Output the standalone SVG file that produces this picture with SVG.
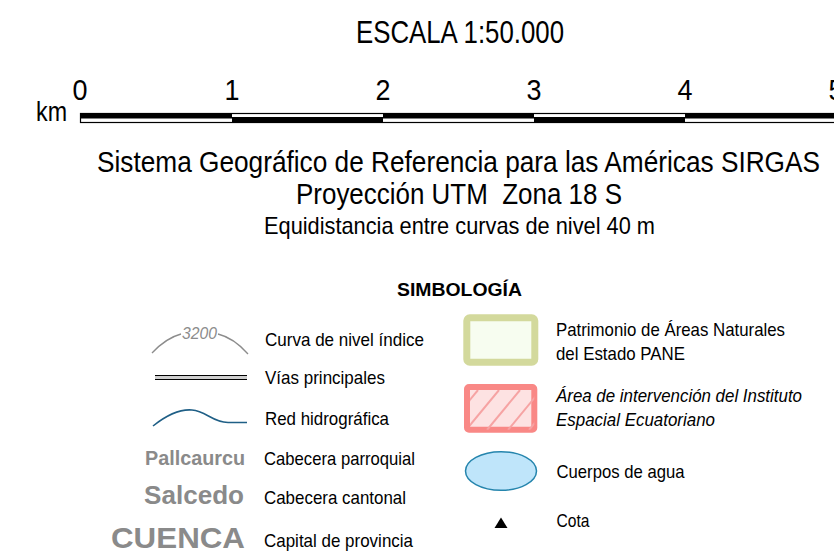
<svg xmlns="http://www.w3.org/2000/svg" width="834" height="559" viewBox="0 0 834 559">
<style>
text{font-family:"Liberation Sans",Arial,sans-serif;fill:#000}
.t{font-size:30px;text-anchor:middle}
.d{font-size:30px;text-anchor:middle}
.lab{font-size:19px}
.it{font-style:italic}
.pl{font-weight:bold;fill:#8a8a8a;text-anchor:end}
</style>
<defs>
<clipPath id="hc"><rect x="470" y="390" width="64.3" height="39.7"/></clipPath>
</defs>
<rect width="834" height="559" fill="#fff"/>
<g id="scale">
<text x="460" y="43" font-size="32" text-anchor="middle" textLength="208" lengthAdjust="spacingAndGlyphs">ESCALA 1:50.000</text>
<text x="36" y="121" font-size="27" textLength="31" lengthAdjust="spacingAndGlyphs">km</text>
<text class="d" x="80" y="100" textLength="15" lengthAdjust="spacingAndGlyphs">0</text>
<text class="d" x="232" y="100" textLength="15" lengthAdjust="spacingAndGlyphs">1</text>
<text class="d" x="383" y="100" textLength="15" lengthAdjust="spacingAndGlyphs">2</text>
<text class="d" x="534" y="100" textLength="15" lengthAdjust="spacingAndGlyphs">3</text>
<text class="d" x="685" y="100" textLength="15" lengthAdjust="spacingAndGlyphs">4</text>
<text class="d" x="836" y="100" textLength="15" lengthAdjust="spacingAndGlyphs">5</text>
<rect x="80.5" y="113.5" width="760" height="9" fill="#fff" stroke="#000" stroke-width="1.2"/>
<rect x="80" y="113" width="152" height="5.5" fill="#000"/>
<rect x="232" y="117" width="151" height="6" fill="#000"/>
<rect x="383" y="113" width="151" height="5.5" fill="#000"/>
<rect x="534" y="117" width="151" height="6" fill="#000"/>
<rect x="685" y="113" width="151" height="5.5" fill="#000"/>
</g>
<g id="header">
<text class="t" x="458.5" y="172" textLength="723" lengthAdjust="spacingAndGlyphs">Sistema Geográfico de Referencia para las Américas SIRGAS</text>
<text class="t" x="459" y="204" textLength="326" lengthAdjust="spacingAndGlyphs" xml:space="preserve">Proyección UTM  Zona 18 S</text>
<text x="459.5" y="234" font-size="24" text-anchor="middle" textLength="391" lengthAdjust="spacingAndGlyphs">Equidistancia entre curvas de nivel 40 m</text>
<text x="459.5" y="296" font-size="19" font-weight="bold" text-anchor="middle" textLength="125" lengthAdjust="spacingAndGlyphs">SIMBOLOGÍA</text>
</g>
<g id="curva">
<path d="M152,353 Q166,338 181,334" fill="none" stroke="#8c8c8c" stroke-width="1.3"/>
<text x="182" y="339" font-size="16.5" font-style="italic" style="fill:#8c8c8c" textLength="35" lengthAdjust="spacingAndGlyphs">3200</text>
<path d="M218,334 Q234,338 248,354" fill="none" stroke="#8c8c8c" stroke-width="1.3"/>
<text class="lab" x="265" y="346" textLength="159" lengthAdjust="spacingAndGlyphs">Curva de nivel índice</text>
</g>
<g id="vias">
<rect x="155" y="375.5" width="92" height="4" fill="#cfcfcf"/>
<line x1="155" y1="375.5" x2="247" y2="375.5" stroke="#000" stroke-width="1.2"/>
<line x1="155" y1="379.5" x2="247" y2="379.5" stroke="#000" stroke-width="1.2"/>
<text class="lab" x="265" y="384" textLength="120" lengthAdjust="spacingAndGlyphs">Vías principales</text>
</g>
<g id="red">
<path d="M153,426 C168,414 180,409 192,410 C206,411 212,422 228,422.5 L247,422.5" fill="none" stroke="#1f5f86" stroke-width="1.6"/>
<text class="lab" x="265" y="425" textLength="124" lengthAdjust="spacingAndGlyphs">Red hidrográfica</text>
</g>
<g id="parroquial">
<text class="pl" x="245" y="465" font-size="19.5" textLength="100" lengthAdjust="spacingAndGlyphs">Pallcaurcu</text>
<text class="lab" x="264" y="465" textLength="151" lengthAdjust="spacingAndGlyphs">Cabecera parroquial</text>
</g>
<g id="cantonal">
<text class="pl" x="244" y="504" font-size="25" textLength="100" lengthAdjust="spacingAndGlyphs">Salcedo</text>
<text class="lab" x="264" y="504" textLength="142" lengthAdjust="spacingAndGlyphs">Cabecera cantonal</text>
</g>
<g id="capital">
<text class="pl" x="245" y="548" font-size="30" textLength="134" lengthAdjust="spacingAndGlyphs">CUENCA</text>
<text class="lab" x="264" y="547" textLength="149" lengthAdjust="spacingAndGlyphs">Capital de provincia</text>
</g>
<g id="pane">
<rect x="466.8" y="317.8" width="68" height="44.4" rx="3" fill="#f7fdf0" stroke="#d3d99c" stroke-width="7"/>
<text class="lab" x="556" y="336" textLength="229" lengthAdjust="spacingAndGlyphs">Patrimonio de Áreas Naturales</text>
<text class="lab" x="556" y="360" textLength="129" lengthAdjust="spacingAndGlyphs">del Estado PANE</text>
</g>
<g id="intervencion">
<rect x="467" y="387" width="67.3" height="42.7" rx="2" fill="#fde2e2" stroke="#f98886" stroke-width="6"/>
<g clip-path="url(#hc)" stroke="#f6a3a3" stroke-width="2">
<line x1="445" y1="430" x2="478" y2="390"/>
<line x1="466" y1="430" x2="499" y2="390"/>
<line x1="487" y1="430" x2="520" y2="390"/>
<line x1="508" y1="430" x2="541" y2="390"/>
<line x1="529" y1="430" x2="562" y2="390"/>
</g>
<text class="lab it" x="556" y="402" textLength="246" lengthAdjust="spacingAndGlyphs">Área de intervención del Instituto</text>
<text class="lab it" x="556" y="426" textLength="159" lengthAdjust="spacingAndGlyphs">Espacial Ecuatoriano</text>
</g>
<g id="agua">
<ellipse cx="501" cy="471" rx="35.5" ry="19.3" fill="#bfe5fa" stroke="#2585ad" stroke-width="1.5"/>
<text class="lab" x="556.5" y="478" textLength="128" lengthAdjust="spacingAndGlyphs">Cuerpos de agua</text>
</g>
<g id="cota">
<polygon points="494.5,528 507.5,528 501,517.5" fill="#000"/>
<text class="lab" x="556.5" y="527" textLength="33" lengthAdjust="spacingAndGlyphs">Cota</text>
</g>
<g id="connectors"/>
</svg>
